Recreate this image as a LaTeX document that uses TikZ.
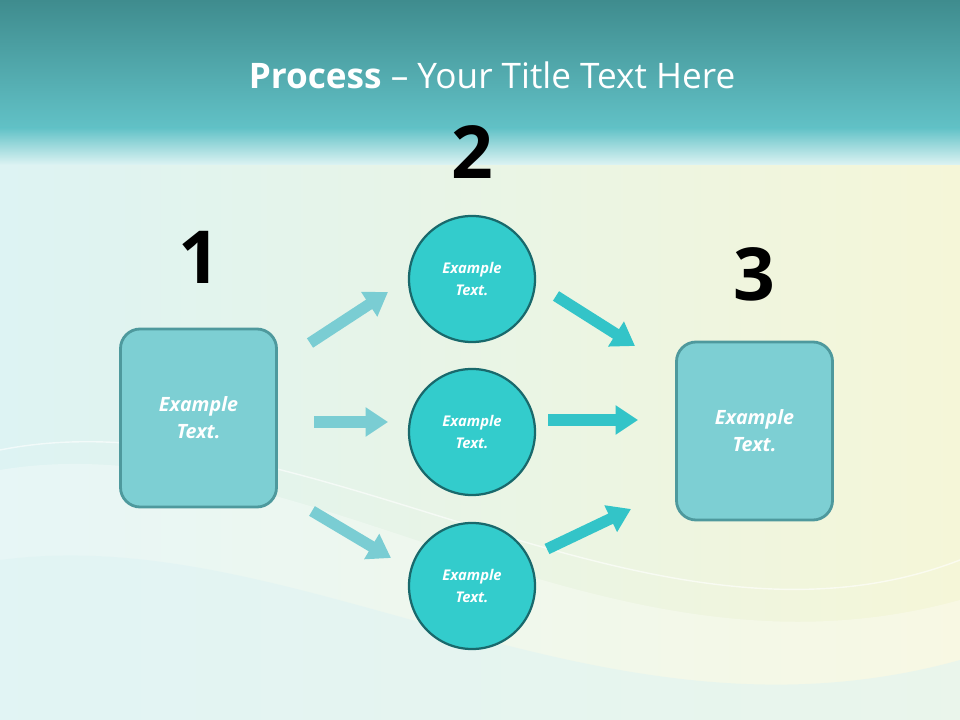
\documentclass[tikz,border=0pt]{standalone}
\usepackage{fontspec}
\setmainfont{Open Sans}
\usetikzlibrary{arrows.meta}
\definecolor{topA}{HTML}{3F8C8E}
\definecolor{topB}{HTML}{62C2C7}
\definecolor{bgL}{HTML}{DDF3F3}
\definecolor{bgR}{HTML}{F5F6D8}
\definecolor{boxfill}{HTML}{7DCFD3}
\definecolor{boxdraw}{HTML}{4E999D}
\definecolor{circfill}{HTML}{33CCCC}
\definecolor{circdraw}{HTML}{19696C}
\definecolor{arrL}{HTML}{7ACDD3}
\definecolor{arrR}{HTML}{33C4C8}
\tikzset{
  x=0.025cm,y=-0.025cm,
  bigbox/.style={draw=boxdraw,line width=2pt,fill=boxfill,rounded corners=14pt,minimum width=3.9cm,minimum height=4.45cm,text=white,font=\bfseries\itshape\fontsize{14}{19}\selectfont,align=center},
  circ/.style={circle,draw=circdraw,line width=1.6pt,fill=circfill,minimum size=3.15cm,text=white,font=\bfseries\itshape\fontsize{10.5}{15}\selectfont,align=center},
  num/.style={font=\bfseries\fontsize{52}{52}\selectfont,text=black},
  fatL/.style={draw=arrL,line width=8pt,-{Triangle[length=16pt,width=20pt]}},
  fatR/.style={draw=arrR,line width=8pt,-{Triangle[length=16pt,width=20pt]}}
}
\begin{document}
\begin{tikzpicture}
\useasboundingbox (0,0) rectangle (960,720);
\shade[left color=bgL,right color=bgR] (0,130) rectangle (960,720);
\fill[white,opacity=0.3] (0,470) .. controls (300,420) and (600,700) .. (960,600) -- (960,720) -- (0,720) -- cycle;
\fill[bgL,opacity=0.5] (0,560) .. controls (300,520) and (600,760) .. (960,660) -- (960,720) -- (0,720) -- cycle;
\draw[white,opacity=0.6,line width=1pt] (0,450) .. controls (300,390) and (650,680) .. (960,560);
\shade[top color=topA,bottom color=topB] (0,0) rectangle (960,130);
\shade[top color=topB,bottom color=bgL] (0,128) rectangle (960,165);
\node[text=white,font=\fontsize{25}{30}\selectfont] (title) at (492,75) {\textbf{Process} – Your Title Text Here};
\node[num] (n1) at (199,257) {1};
\node[num] (n2) at (472,152) {2};
\node[num] (n3) at (754,274) {3};
\node[bigbox] (b1) at (198.5,418) {Example\\Text.};
\node[bigbox] (b3) at (754.5,431) {Example\\Text.};
\node[circ] (c1) at (472,279) {Example\\Text.};
\node[circ] (c2) at (472,432) {Example\\Text.};
\node[circ] (c3) at (472,586) {Example\\Text.};
\coordinate (a1s) at (310,343); \coordinate (a1e) at (388,292);
\coordinate (a2s) at (314,422); \coordinate (a2e) at (388,422);
\coordinate (a3s) at (312,511); \coordinate (a3e) at (391,558);
\coordinate (a4s) at (556,296); \coordinate (a4e) at (635,346);
\coordinate (a5s) at (548,420); \coordinate (a5e) at (638,420);
\coordinate (a6s) at (547,549); \coordinate (a6e) at (631,509);
\draw[fatL] (a1s) -- (a1e);
\draw[fatL] (a2s) -- (a2e);
\draw[fatL] (a3s) -- (a3e);
\draw[fatR] (a4s) -- (a4e);
\draw[fatR] (a5s) -- (a5e);
\draw[fatR] (a6s) -- (a6e);
\end{tikzpicture}
\end{document}
